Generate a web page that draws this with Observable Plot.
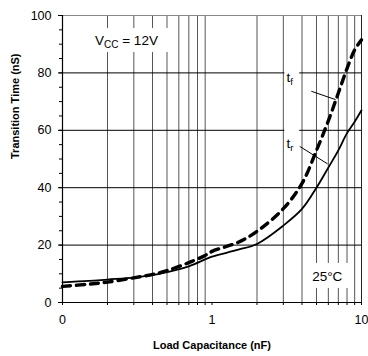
<!DOCTYPE html>
<html><head><meta charset="utf-8">
<script src="https://cdn.jsdelivr.net/npm/d3@7"></script>
<script src="https://cdn.jsdelivr.net/npm/@observablehq/plot@0.6"></script>
<style>body{margin:0;background:#fff}</style>
</head><body><div id="chart"></div>
<script>
// Load capacitance (nF)
const cap = [0.1, 0.15, 0.2, 0.3, 0.4, 0.5, 0.7, 0.9, 1, 1.5, 2, 3, 4, 5, 6, 7, 8, 9, 10];
// Rise time tr (nS) – solid
const riseTime = [7.0, 7.5, 8.0, 8.7, 9.5, 10.6, 12.6, 15.0, 16.0, 18.4, 20.4, 26.8, 32.6, 40.0, 47.0, 53.0, 59.0, 63.0, 67.0];
// Fall time tf (nS) – dashed
const fallTime = [5.6, 6.4, 7.1, 8.6, 9.8, 11.1, 13.9, 16.4, 17.8, 21.0, 24.8, 32.7, 41.5, 53.0, 63.3, 73.0, 81.5, 88.0, 91.5];

const gridX = [0.2, 0.3, 0.4, 0.5, 0.6, 0.7, 0.8, 0.9, 2, 3, 4, 5, 6, 7, 8, 9];
const gridY = [20, 40, 60, 80];
const yLabelTicks = [0, 20, 40, 60, 80, 100];
const yMinorTicks = [0, 5, 10, 15, 20, 25, 30, 35, 40, 45, 50, 55, 60, 65, 70, 75, 80, 85, 90, 95, 100];
const xLabelTicks = [0.1, 1, 10];
const xLabelText = ["0", "1", "10"];
const xMinorTicks = [0.1, 0.2, 0.3, 0.4, 0.5, 0.6, 0.7, 0.8, 0.9, 1, 2, 3, 4, 5, 6, 7, 8, 9, 10];

const xTitle = "Load Capacitance (nF)";
const yTitle = "Transition Time (nS)";

// annotation text (positions in data units)
const noteText = ["VCC = 12V", "tf", "tr", "25°C"];
const noteX = [0.165, 3.15, 3.15, 5.9];
const noteY = [91.3, 78.5, 55.4, 9.0];
const noteAnchor = ["start", "start", "start", "middle"];

// white label boxes
const boxX1 = [0.158, 3.07, 3.07, 4.36];
const boxX2 = [0.54, 3.86, 3.86, 8.3];
const boxY1 = [87.1, 75, 56, 4.9];
const boxY2 = [95.5, 85, 64, 13.6];

// leader lines
const leadX1 = [4.62, 3.86];
const leadY1 = [73.6, 54.4];
const leadX2 = [6.71, 5.93];
const leadY2 = [70.7, 48.3];

const curveData = cap.map((c, i) => ({c, tr: riseTime[i], tf: fallTime[i]}));
const notes = noteText.map((t, i) => ({t, x: noteX[i], y: noteY[i], a: noteAnchor[i]}));
const boxes = boxX1.map((v, i) => ({x1: v, x2: boxX2[i], y1: boxY1[i], y2: boxY2[i]}));
const leads = leadX1.map((v, i) => ({x1: v, y1: leadY1[i], x2: leadX2[i], y2: leadY2[i]}));

const chart = Plot.plot({
  width: 368,
  height: 356,
  marginLeft: 62,
  marginRight: 7,
  marginTop: 15,
  marginBottom: 54,
  style: {fontFamily: "'Liberation Sans', Arial, sans-serif", fontSize: "12.5px", color: "#000", background: "#fff"},
  x: {type: "log", domain: [0.1, 10]},
  y: {domain: [0, 100]},
  marks: [
    Plot.ruleX(gridX, {stroke: "#555", strokeWidth: 1, strokeOpacity: 1}),
    Plot.ruleY(gridY, {stroke: "#000", strokeWidth: 1}),
    Plot.ruleY([100], {stroke: "#888", strokeWidth: 1}),
    Plot.ruleX([10], {stroke: "#222", strokeWidth: 1}),
    Plot.rect(boxes, {x1: "x1", x2: "x2", y1: "y1", y2: "y2", fill: "#fff"}),
    Plot.ruleX([0.1], {stroke: "#000", strokeWidth: 1.2}),
    Plot.ruleY([0], {stroke: "#000", strokeWidth: 1.2}),
    Plot.axisY({ticks: yMinorTicks, tickSize: 3, tickFormat: () => "", stroke: "#000"}),
    Plot.axisY({ticks: yLabelTicks, tickSize: 4, tickPadding: 7, tickFormat: d => String(d), fontSize: 12.5, label: null}),
    Plot.axisX({ticks: xMinorTicks, tickSize: 3, tickFormat: () => "", label: null}),
    Plot.axisX({ticks: xLabelTicks, tickSize: 0, tickPadding: 13, tickFormat: d => xLabelText[xLabelTicks.indexOf(d)], fontSize: 12.5, label: null}),
    Plot.line(curveData, {x: "c", y: "tf", stroke: "#000", strokeWidth: 3.4, strokeDasharray: "8,6", curve: "catmull-rom"}),
    Plot.line(curveData, {x: "c", y: "tr", stroke: "#000", strokeWidth: 1.8, curve: "catmull-rom"}),
    Plot.link(leads, {x1: "x1", y1: "y1", x2: "x2", y2: "y2", stroke: "#000", strokeWidth: 1}),
    Plot.text(notes, {filter: d => d.a === "start", x: "x", y: "y", text: "t", textAnchor: "start", fontSize: 13.5, fill: "#000"}),
    Plot.text(notes, {filter: d => d.a === "middle", x: "x", y: "y", text: "t", textAnchor: "middle", fontSize: 13.5, fill: "#000"}),
    Plot.text([xTitle], {frameAnchor: "bottom", dy: 46, fontWeight: "bold", fontSize: 11, fill: "#000"}),
    Plot.text([yTitle], {frameAnchor: "left", dx: -47, rotate: -90, fontWeight: "bold", fontSize: 11, fill: "#000"})
  ]
});

const NS = "http://www.w3.org/2000/svg";
function subscript(t, main, sub, rest, subSize) {
  while (t.firstChild) t.removeChild(t.firstChild);
  t.appendChild(document.createTextNode(main));
  const s = document.createElementNS(NS, "tspan");
  s.setAttribute("font-size", subSize);
  s.setAttribute("dy", "3");
  s.setAttribute("fill", "#000");
  s.textContent = sub;
  t.appendChild(s);
  if (rest) {
    const r = document.createElementNS(NS, "tspan");
    r.setAttribute("dy", "-3");
    r.setAttribute("fill", "#000");
    r.textContent = rest;
    t.appendChild(r);
  }
}
chart.querySelectorAll("text").forEach(t => {
  const s = t.textContent;
  if (s === "VCC = 12V") subscript(t, "V", "CC", " = 12V", 10);
  else if (s === "tf") subscript(t, "t", "f", null, 9.5);
  else if (s === "tr") subscript(t, "t", "r", null, 9.5);
});

document.getElementById("chart").appendChild(chart);
</script>
</body></html>
